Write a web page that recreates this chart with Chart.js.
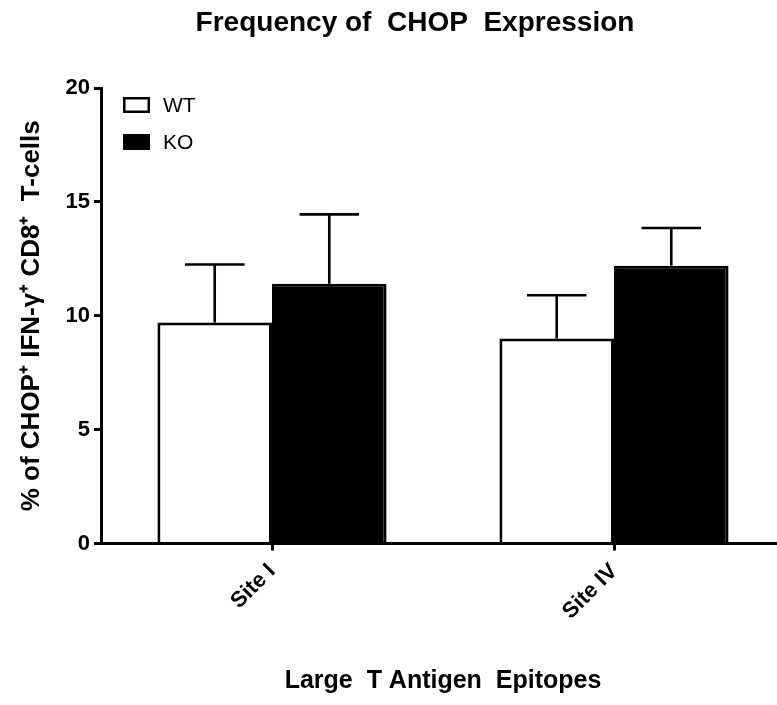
<!DOCTYPE html>
<html>
<head>
<meta charset="utf-8">
<script src="https://cdn.jsdelivr.net/npm/chart.js@4.4.1/dist/chart.umd.min.js"></script>
<style>
  html, body { margin: 0; padding: 0; background: #fff; overflow: hidden; }
  #wrap { position: relative; width: 830px; height: 705px; }
</style>
</head>
<body>
<div id="wrap"><canvas id="c" width="830" height="705"></canvas></div>
<script>
// ---- data ----
const categories = ['Site I', 'Site IV'];
const seriesNames = ['WT', 'KO'];
const wtMean = [9.7, 9.0];
const wtErr = [2.55, 1.9];
const koMean = [11.4, 12.2];
const koErr = [3.05, 1.65];
const yMin = 0;
const yMax = 20;
const yStep = 5;
const chartTitle = 'Frequency of  CHOP  Expression';
const xTitle = 'Large  T Antigen  Epitopes';
const yTitle = '% of CHOP\u207A IFN-\u03B3\u207A CD8\u207A  T-cells';

const FONT = "'Liberation Sans', Arial, Helvetica, sans-serif";

const errorBars = {
  id: 'errorBars',
  afterDatasetsDraw(chart) {
    const ctx = chart.ctx;
    const yScale = chart.scales.y;
    chart.data.datasets.forEach((ds, di) => {
      const meta = chart.getDatasetMeta(di);
      meta.data.forEach((el, i) => {
        const top = yScale.getPixelForValue(ds.data[i] + ds.errors[i]);
        const capHalf = el.width * 0.26;
        ctx.save();
        ctx.strokeStyle = '#000';
        ctx.lineWidth = 2.6;
        ctx.beginPath();
        ctx.moveTo(el.x, el.y);
        ctx.lineTo(el.x, top);
        ctx.moveTo(el.x - capHalf, top);
        ctx.lineTo(el.x + capHalf, top);
        ctx.stroke();
        ctx.restore();
      });
    });
  }
};

const insideLegend = {
  id: 'insideLegend',
  afterDraw(chart) {
    const ctx = chart.ctx;
    const area = chart.chartArea;
    const x0 = area.left + 22;
    let y0 = area.top + 9;
    chart.data.datasets.forEach((ds) => {
      ctx.save();
      ctx.fillStyle = ds.backgroundColor;
      ctx.fillRect(x0, y0, 27, 16);
      ctx.strokeStyle = '#000';
      ctx.lineWidth = 2.5;
      ctx.strokeRect(x0 + 1.25, y0 + 1.25, 24.5, 13.5);
      ctx.fillStyle = '#000';
      ctx.font = '21px ' + FONT;
      ctx.textBaseline = 'middle';
      ctx.textAlign = 'left';
      ctx.fillText(ds.label, x0 + 40, y0 + 9);
      ctx.restore();
      y0 += 37;
    });
  }
};

new Chart(document.getElementById('c'), {
  type: 'bar',
  data: {
    labels: categories,
    datasets: [
      { label: seriesNames[0], data: wtMean, errors: wtErr, backgroundColor: '#ffffff', borderColor: '#000000', borderWidth: 3 },
      { label: seriesNames[1], data: koMean, errors: koErr, backgroundColor: '#000000', borderColor: '#000000', borderWidth: 3 }
    ]
  },
  plugins: [errorBars, insideLegend],
  options: {
    responsive: false,
    animation: false,
    devicePixelRatio: 1,
    layout: { padding: { left: 0, right: 0, top: 0, bottom: 0 } },
    datasets: { bar: { categoryPercentage: 0.67, barPercentage: 1.0 } },
    plugins: {
      legend: { display: false },
      tooltip: { enabled: false },
      title: {
        display: true,
        text: chartTitle,
        color: '#000',
        font: { family: FONT, size: 28, weight: 'bold' },
        padding: { top: 6, bottom: 48.4 }
      }
    },
    scales: {
      x: {
        type: 'category',
        offset: true,
        grid: { display: true, drawOnChartArea: false, offset: false, color: '#000', lineWidth: 3, tickLength: 7 },
        border: { display: true, color: '#000', width: 3 },
        ticks: {
          color: '#000',
          font: { family: FONT, size: 22, weight: 'bold' },
          maxRotation: 45, minRotation: 45, padding: 8
        },
        title: {
          display: true, text: xTitle, color: '#000',
          font: { family: FONT, size: 25, weight: 'bold' },
          padding: { top: 0, bottom: 9 }
        },
        afterFit(scale) { scale.height = 161.5; }
      },
      y: {
        min: yMin, max: yMax,
        grid: { display: true, drawOnChartArea: false, color: '#000', lineWidth: 3, tickLength: 7 },
        border: { display: true, color: '#000', width: 3 },
        ticks: {
          stepSize: yStep, color: '#000', padding: 4,
          font: { family: FONT, size: 22, weight: 'bold' }
        },
        title: {
          display: true, text: yTitle, color: '#000',
          font: { family: FONT, size: 26, weight: 'bold' },
          padding: { top: 16, bottom: 0 }
        },
        afterFit(scale) { scale.width = 101; }
      },
      spacer: {
        type: 'linear',
        position: 'right',
        display: true,
        grid: { display: false },
        border: { display: false },
        ticks: { display: false },
        title: { display: false },
        afterFit(scale) { scale.width = 45; }
      }
    }
  }
});
</script>
</body>
</html>
